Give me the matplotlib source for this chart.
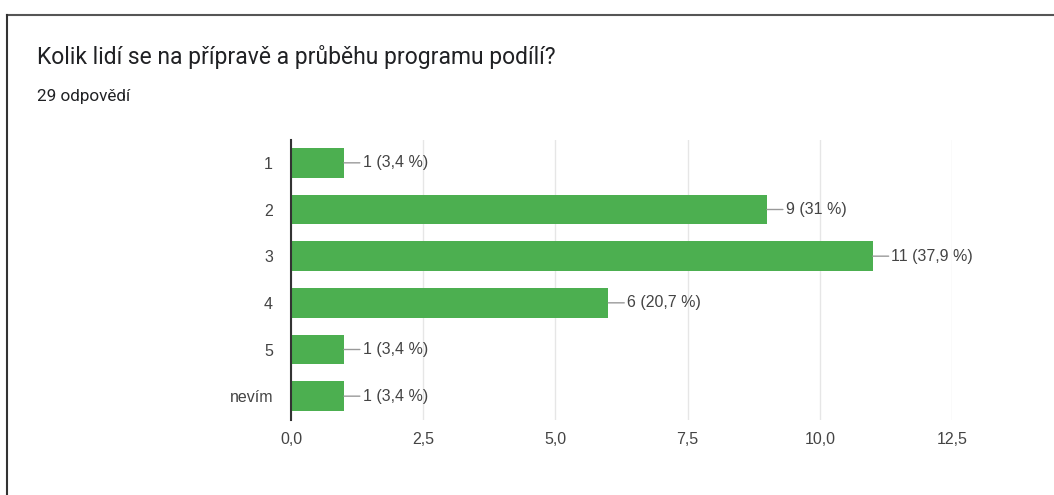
import matplotlib
matplotlib.use('Agg')
import matplotlib.pyplot as plt
from matplotlib.lines import Line2D

plt.rcParams['font.family'] = ['Roboto', 'DejaVu Sans']

# data
categories = ['1', '2', '3', '4', '5', 'nevím']
counts = [1, 9, 11, 6, 1, 1]
labels = ['1 (3,4 %)', '9 (31 %)', '11 (37,9 %)', '6 (20,7 %)', '1 (3,4 %)', '1 (3,4 %)']
xticks = [0, 2.5, 5, 7.5, 10, 12.5]
xticklabels = ['0,0', '2,5', '5,0', '7,5', '10,0', '12,5']

W, H = 1054, 495
fig = plt.figure(figsize=(W / 100, H / 100), dpi=100)
chart_font = ['Liberation Sans', 'DejaVu Sans']

# rámeček okolo karty
fig.add_artist(Line2D([7 / W, 1], [1 - 14.5 / H, 1 - 14.5 / H], color='#555555', lw=1.5))
fig.add_artist(Line2D([7 / W, 7 / W], [0, 1 - 14.5 / H], color='#333333', lw=1.5))

fig.text(37 / W, 1 - 57 / H, 'Kolik lidí se na přípravě a průběhu programu podílí?',
         fontsize=16.5, color='#202124', va='center')
fig.text(37 / W, 1 - 97 / H, '29 odpovědí', fontsize=12.3, color='#202124', va='center')

# osa grafu
ax = fig.add_axes([291 / W, 1 - 419.5 / H, (952 - 291) / W, (419.5 - 139.5) / H])
y = list(range(len(categories)))
ax.barh(y, counts, height=0.63, color='#4caf50', zorder=3)
ax.set_ylim(len(categories) - 0.5, -0.5)
ax.set_xlim(0, 12.5)

ax.set_yticks(y)
ax.set_yticklabels(categories, fontsize=11.5, color='#444444', family=chart_font)
ax.set_xticks(xticks)
ax.set_xticklabels(xticklabels, fontsize=11.5, color='#444444', family=chart_font)
ax.tick_params(axis='x', length=0, pad=9)
ax.tick_params(axis='y', length=0, pad=13)

ax.grid(axis='x', color='#e6e6e6', lw=1, zorder=0)
for s in ['top', 'right', 'bottom']:
    ax.spines[s].set_visible(False)
ax.spines['left'].set_color('#333333')
ax.spines['left'].set_linewidth(1.5)
ax.spines['left'].set_zorder(4)

# popisky s vodicí čárou
for yi, c, lab in zip(y, counts, labels):
    ax.annotate(lab, xy=(c, yi), xytext=(13.5, 0), textcoords='offset points',
                va='center', ha='left', fontsize=11.5, color='#444444', family=chart_font,
                arrowprops=dict(arrowstyle='-', color='#999999', lw=1,
                                shrinkA=0, shrinkB=0))

fig.savefig('out.png', dpi=100, facecolor='white')
